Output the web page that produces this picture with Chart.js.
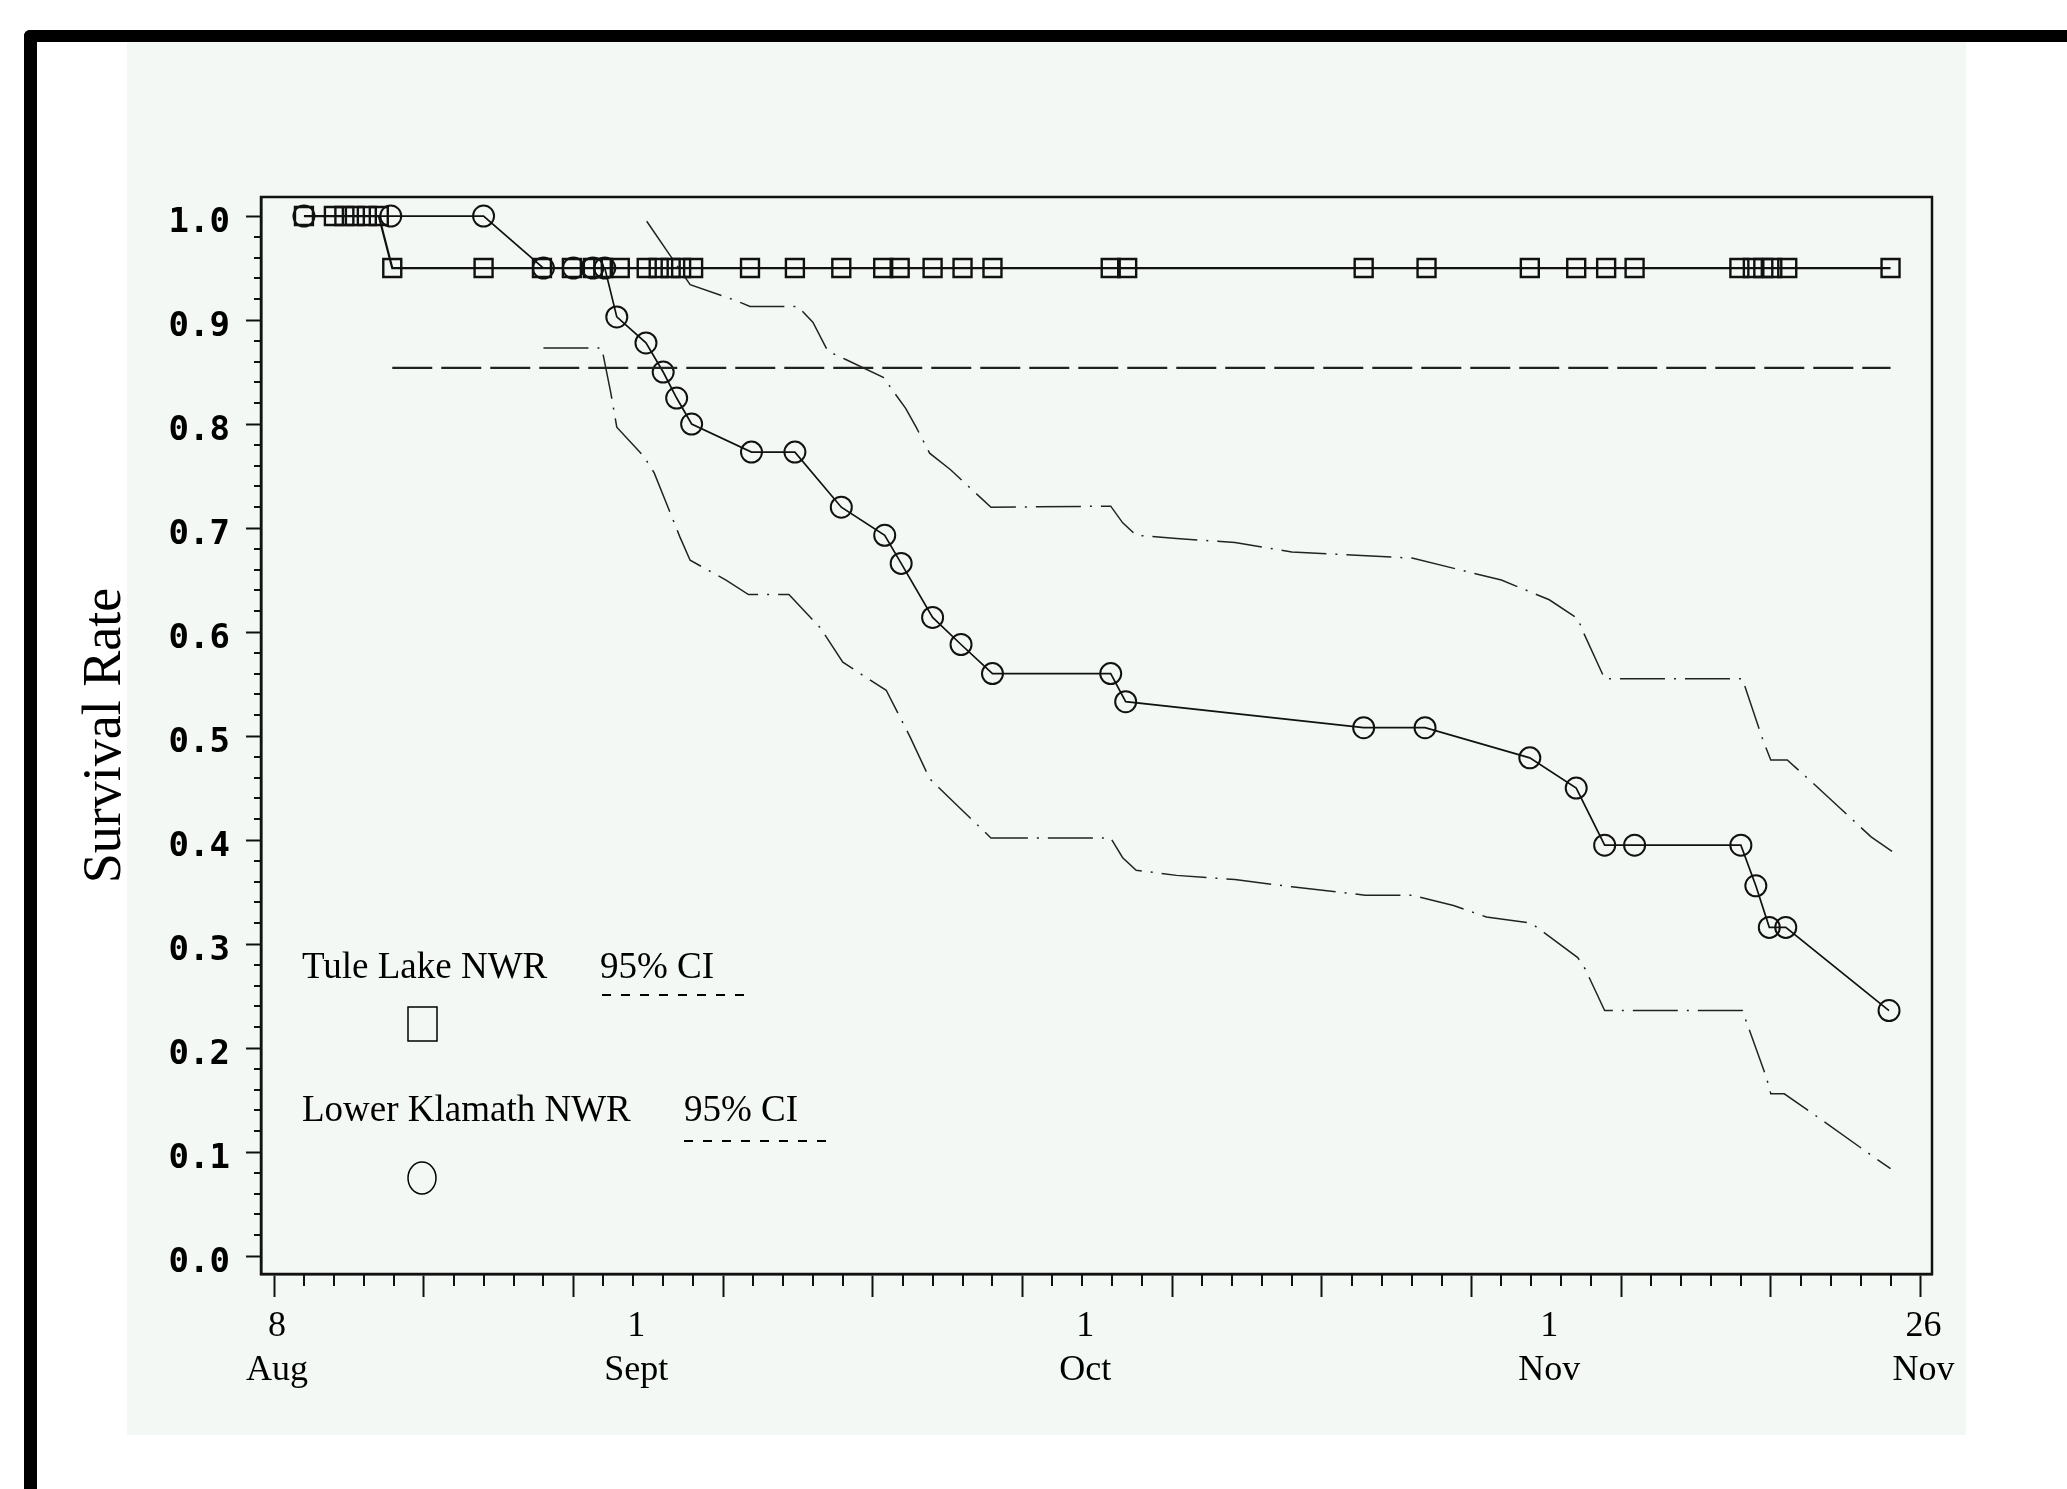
<!DOCTYPE html>
<html>
<head>
<meta charset="utf-8">
<script src="https://cdn.jsdelivr.net/npm/chart.js@4.4.1/dist/chart.umd.min.js"></script>
<style>
  html, body { margin: 0; padding: 0; background: #fff; }
  canvas { display: block; }
</style>
</head>
<body>
<canvas id="survChart" width="2067" height="1489" style="width:2067px;height:1489px"></canvas>
<script>
// days counted from 8 Aug (day 0) to 26 Nov (day 110)
const tuleDays = [2, 4, 4.7, 5.4, 6.2, 7.0, 7.9, 14.0, 17.9, 19.9, 21.3, 22.0, 23.1, 24.9, 25.7, 26.5, 27.2, 28.0,
  31.8, 34.8, 37.9, 40.7, 41.8, 44.0, 46.0, 48.0, 55.9, 57.0, 72.8, 77.0, 83.9, 87.0, 89.0, 90.9,
  97.9, 98.8, 99.5, 100.1, 101.1, 108.0];
const tuleSurvival = [1, 1, 1, 1, 1, 1, 0.95, 0.95, 0.95, 0.95, 0.95, 0.95, 0.95, 0.95, 0.95, 0.95, 0.95, 0.95,
  0.95, 0.95, 0.95, 0.95, 0.95, 0.95, 0.95, 0.95, 0.95, 0.95, 0.95, 0.95, 0.95, 0.95, 0.95, 0.95,
  0.95, 0.95, 0.95, 0.95, 0.95, 0.95];

const tuleCiDays = [7.9, 108.0];
const tuleCiLower = [0.854, 0.854];

const klamathDays = [2, 7.8, 14.0, 18.0, 20.0, 21.3, 22.1, 22.9, 24.85, 26.0, 26.9, 27.9, 31.9, 34.8, 37.9,
  40.8, 41.9, 44.0, 45.9, 48.0, 55.9, 56.9, 72.8, 76.9, 83.9, 87.0, 88.9, 90.9, 98.0, 99.0, 99.9, 101.0, 107.9];
const klamathSurvival = [1, 1, 1, 0.95, 0.95, 0.95, 0.95, 0.903, 0.878, 0.850, 0.825, 0.800, 0.773, 0.773, 0.720,
  0.693, 0.666, 0.614, 0.588, 0.560, 0.560, 0.533, 0.508, 0.508, 0.479, 0.450, 0.395, 0.395, 0.395, 0.356, 0.316, 0.316, 0.236];

const klamathUpperDays = [24.9, 26.8, 27.8, 30.8, 31.8, 35.0, 36.0, 37.0, 38.2, 40.7, 42.2, 42.9, 43.8, 45.2, 47.9,
  55.9, 56.7, 57.6, 60.3, 64.2, 68.0, 76.1, 80.0, 82.0, 85.2, 87.1, 87.5, 88.9, 98.1, 99.5, 100.0, 101.1, 102.8, 106.7, 108.1];
const klamathUpper = [0.995, 0.955, 0.934, 0.919, 0.913, 0.913, 0.898, 0.870, 0.862, 0.845, 0.815, 0.797, 0.772, 0.756, 0.720,
  0.721, 0.705, 0.693, 0.690, 0.686, 0.677, 0.671, 0.657, 0.650, 0.631, 0.613, 0.599, 0.555, 0.555, 0.495, 0.477, 0.477, 0.455, 0.403, 0.389];

const klamathLowerDays = [18.0, 21.9, 22.5, 22.9, 24.7, 25.4, 27.1, 27.8, 30.2, 31.7, 34.4, 36.5, 38.0, 39.8, 40.9,
  42.5, 43.8, 45.3, 47.9, 55.9, 56.7, 57.6, 60.3, 64.2, 68.0, 72.9, 76.0, 78.8, 81.0, 84.0, 87.1, 87.6, 88.9,
  98.1, 99.7, 100.0, 100.9, 102.9, 106.8, 108.0];
const klamathLower = [0.873, 0.873, 0.830, 0.797, 0.769, 0.753, 0.692, 0.669, 0.650, 0.636, 0.636, 0.604, 0.571, 0.554, 0.544,
  0.499, 0.459, 0.438, 0.402, 0.402, 0.383, 0.371, 0.366, 0.362, 0.355, 0.347, 0.347, 0.337, 0.326, 0.320, 0.287, 0.276, 0.236,
  0.236, 0.172, 0.156, 0.156, 0.136, 0.096, 0.084];

const xLabelDays = [0, 24, 54, 85, 110];
const xLabelText = [['8', 'Aug'], ['1', 'Sept'], ['1', 'Oct'], ['1', 'Nov'], ['26', 'Nov']];
const yLabelValues = [0, 0.1, 0.2, 0.3, 0.4, 0.5, 0.6, 0.7, 0.8, 0.9, 1.0];
const yLabelText = ['0.0', '0.1', '0.2', '0.3', '0.4', '0.5', '0.6', '0.7', '0.8', '0.9', '1.0'];

function toPoints(xs, ys) {
  return xs.map((d, i) => ({ x: d, y: ys[i] }));
}

// tick marks every 2 days, long ones every 10; 1 Nov is label only
const xTicks = [];
for (let d = 0; d <= 110; d += 2) xTicks.push(d);
xTicks.push(85);
xTicks.sort((a, b) => a - b);

const yTicks = [];
for (let k = 0; k <= 50; k++) yTicks.push(Math.round(k * 2) / 100);

function isMajorX(v) { return v % 10 === 0; }
function isMinorX(v) { return v % 2 === 0 && v % 10 !== 0; }
function yLabelIndex(v) { return yLabelValues.findIndex(l => Math.abs(l - v) < 1e-9); }

const backdrop = {
  id: 'backdrop',
  beforeDraw(chart) {
    const ctx = chart.ctx;
    ctx.save();
    ctx.fillStyle = '#ffffff';
    ctx.fillRect(0, 0, chart.width, chart.height);
    ctx.fillStyle = '#f3f8f5';
    ctx.fillRect(127, 42, 1839, 1393);
    ctx.fillStyle = '#000000';
    ctx.beginPath();
    ctx.roundRect(24, 30, 2100, 12, [6, 0, 0, 0]);
    ctx.fill();
    ctx.beginPath();
    ctx.roundRect(24, 30, 13, 1500, [6, 0, 0, 0]);
    ctx.fill();
    ctx.restore();
  }
};

const frameAndTicks = {
  id: 'frameAndTicks',
  afterDraw(chart) {
    const { ctx, chartArea: a, scales: { x, y } } = chart;
    ctx.save();
    ctx.strokeStyle = '#111';
    ctx.lineWidth = 2.5;
    ctx.strokeRect(a.left, a.top, a.right - a.left, a.bottom - a.top);
    ctx.lineWidth = 2;
    ctx.beginPath();
    x.ticks.forEach(t => {
      if (isMinorX(t.value)) {
        const px = Math.round(x.getPixelForValue(t.value));
        ctx.moveTo(px, a.bottom);
        ctx.lineTo(px, a.bottom + 12);
      }
    });
    y.ticks.forEach(t => {
      if (yLabelIndex(t.value) < 0) {
        const py = Math.round(y.getPixelForValue(t.value));
        ctx.moveTo(a.left - 7, py);
        ctx.lineTo(a.left, py);
      }
    });
    ctx.stroke();
    ctx.restore();
  }
};

const keyBox = {
  id: 'keyBox',
  afterDraw(chart) {
    const ctx = chart.ctx;
    ctx.save();
    ctx.fillStyle = '#000';
    ctx.font = '37px "Liberation Serif", "Times New Roman", serif';
    ctx.textBaseline = 'alphabetic';
    ctx.fillText('Tule Lake NWR', 302, 978);
    ctx.fillText('95% CI', 600, 978);
    ctx.fillText('Lower Klamath NWR', 302, 1121);
    ctx.fillText('95% CI', 684, 1121);

    ctx.strokeStyle = '#000';
    ctx.lineWidth = 1.5;
    ctx.strokeRect(408, 1007, 29, 34);
    ctx.beginPath();
    ctx.ellipse(422, 1178, 14, 16, 0, 0, Math.PI * 2);
    ctx.stroke();

    ctx.lineWidth = 2;
    ctx.setLineDash([9, 10]);
    ctx.beginPath();
    ctx.moveTo(602, 995);
    ctx.lineTo(744, 995);
    ctx.moveTo(684, 1141);
    ctx.lineTo(826, 1141);
    ctx.stroke();
    ctx.restore();
  }
};

const ctx = document.getElementById('survChart').getContext('2d');
new Chart(ctx, {
  type: 'line',
  data: {
    datasets: [
      {
        label: 'Tule Lake NWR',
        data: toPoints(tuleDays, tuleSurvival),
        borderColor: '#111',
        borderWidth: 2.2,
        pointStyle: 'rect',
        pointRadius: 12.7,
        pointBorderWidth: 2.4,
        pointBorderColor: '#111',
        pointBackgroundColor: 'rgba(0,0,0,0)',
        tension: 0
      },
      {
        label: 'Tule Lake 95% CI',
        data: toPoints(tuleCiDays, tuleCiLower),
        borderColor: '#222',
        borderWidth: 2.4,
        borderDash: [40, 9],
        pointRadius: 0
      },
      {
        label: 'Lower Klamath NWR',
        data: toPoints(klamathDays, klamathSurvival),
        borderColor: '#111',
        borderWidth: 1.7,
        pointStyle: 'circle',
        pointRadius: 10.5,
        pointBorderWidth: 2,
        pointBorderColor: '#111',
        pointBackgroundColor: 'rgba(0,0,0,0)',
        tension: 0
      },
      {
        label: 'Lower Klamath upper 95% CI',
        data: toPoints(klamathUpperDays, klamathUpper),
        borderColor: '#222',
        borderWidth: 1.5,
        borderDash: [45, 9, 2, 9],
        pointRadius: 0
      },
      {
        label: 'Lower Klamath lower 95% CI',
        data: toPoints(klamathLowerDays, klamathLower),
        borderColor: '#222',
        borderWidth: 1.5,
        borderDash: [45, 9, 2, 9],
        pointRadius: 0
      }
    ]
  },
  options: {
    responsive: false,
    animation: false,
    devicePixelRatio: 1,
    layout: { padding: { left: 0, top: 197, right: 135, bottom: 0 } },
    plugins: { legend: { display: false }, tooltip: { enabled: false } },
    scales: {
      x: {
        type: 'linear',
        position: 'bottom',
        min: -0.87,
        max: 110.77,
        afterBuildTicks: scale => { scale.ticks = xTicks.map(v => ({ value: v })); },
        afterFit: scale => { scale.height = 215; },
        border: { display: true, color: '#111', width: 2.5 },
        grid: {
          drawOnChartArea: false,
          drawTicks: true,
          tickLength: 23,
          tickWidth: 2,
          tickColor: c => (c.tick && isMajorX(c.tick.value)) ? '#111' : 'rgba(0,0,0,0)'
        },
        ticks: {
          autoSkip: false,
          maxRotation: 0,
          padding: 8,
          labelOffset: 3,
          color: '#000',
          font: { family: '"Liberation Serif", "Times New Roman", serif', size: 36, lineHeight: 1.22 },
          callback: value => {
            const i = xLabelDays.indexOf(value);
            return i >= 0 ? xLabelText[i] : '';
          }
        }
      },
      y: {
        type: 'linear',
        min: -0.0173,
        max: 1.0183,
        afterBuildTicks: scale => { scale.ticks = yTicks.map(v => ({ value: v })); },
        afterFit: scale => { scale.width = 261; },
        border: { display: true, color: '#111', width: 2.5 },
        grid: {
          drawOnChartArea: false,
          drawTicks: true,
          tickLength: 15,
          tickWidth: 2,
          tickColor: c => (c.tick && yLabelIndex(c.tick.value) >= 0) ? '#111' : 'rgba(0,0,0,0)'
        },
        ticks: {
          autoSkip: false,
          padding: 16,
          labelOffset: 7,
          color: '#000',
          font: { family: '"DejaVu Sans Mono", monospace', size: 34, weight: 'bold' },
          callback: value => {
            const i = yLabelIndex(value);
            return i >= 0 ? yLabelText[i] : '';
          }
        },
        title: {
          display: true,
          text: 'Survival Rate',
          color: '#000',
          padding: { top: 79, bottom: 0 },
          font: { family: '"Liberation Serif", "Times New Roman", serif', size: 54, lineHeight: 1 }
        }
      }
    }
  },
  plugins: [backdrop, frameAndTicks, keyBox]
});
</script>
</body>
</html>
